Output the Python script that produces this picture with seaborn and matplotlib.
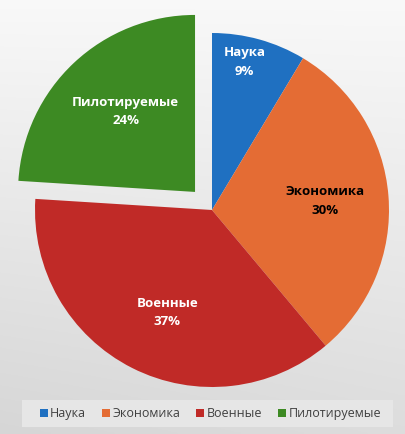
import numpy as np
import matplotlib
matplotlib.use("Agg")
import matplotlib.pyplot as plt
import matplotlib.patches as mpatches
import seaborn as sns

categories = ["Наука", "Экономика", "Военные", "Пилотируемые"]
shares = [8.6, 30.3, 37.1, 24.0]
colors = ["#1F70C1", "#E46C34", "#C02A27", "#3D8A23"]
label_colors = ["white", "black", "white", "white"]

sns.set_theme(style="white")
plt.rcParams["font.family"] = ["Open Sans", "DejaVu Sans"]

fig = plt.figure(figsize=(4.05, 4.34), dpi=100)

# background gradient (light at top right, gray toward bottom left)
bg = fig.add_axes([0, 0, 1, 1], zorder=0)
yy, xx = np.mgrid[0:1:200j, 0:1:200j]
shade = 0.975 - 0.11 * yy - 0.025 * (1 - xx) * yy
bg.imshow(np.dstack([shade] * 3), extent=(0, 1, 0, 1), aspect="auto", origin="upper")
bg.axis("off")

ax = fig.add_axes([0, 0, 1, 1], zorder=1)
ax.patch.set_alpha(0)
R = 177.0
cx, cy = 212.0, 210.0
explode = [0, 0, 0, 0.14]
wedges, texts, autotexts = ax.pie(
    shares,
    colors=colors,
    startangle=90,
    counterclock=False,
    explode=explode,
    autopct="%1.0f%%",
    pctdistance=0.65,
    wedgeprops=dict(linewidth=0),
)
ax.set_xlim(-cx / R, (405 - cx) / R)
ax.set_ylim(-(434 - cy) / R, cy / R)
ax.set_aspect("auto")

# label placement: radius fraction and angle tweak (deg) per slice
dists = [0.855, 0.64, 0.633, 0.6]
turns = [3, 0, 3.3, -2.4]
for i, (w, t) in enumerate(zip(wedges, autotexts)):
    mid = np.deg2rad((w.theta1 + w.theta2) / 2 + turns[i])
    ox, oy = w.center
    x = ox + dists[i] * np.cos(mid)
    y = oy + dists[i] * np.sin(mid)
    t.set_position((x, y))
    t.set_text(categories[i] + "\n" + t.get_text())
    t.set_color(label_colors[i])
    t.set_fontsize(9.5)
    t.set_fontweight("bold")
    t.set_ha("center")
    t.set_va("center")
    t.set_linespacing(1.55)

# legend panel
fig.patches.append(mpatches.Rectangle(
    (22 / 405, 7 / 434), 371 / 405, 27 / 434,
    transform=fig.transFigure, facecolor="#E6E6E6", edgecolor="none", zorder=2,
))

leg = fig.legend(
    wedges,
    categories,
    loc="center",
    bbox_to_anchor=(210.5 / 405, 20.5 / 434),
    ncol=4,
    frameon=False,
    handlelength=0.6,
    handleheight=0.6,
    handletextpad=0.2,
    columnspacing=1.3,
    fontsize=9,
    labelcolor="#404040",
)
leg.set_zorder(3)

fig.savefig("out.png", dpi=100)
